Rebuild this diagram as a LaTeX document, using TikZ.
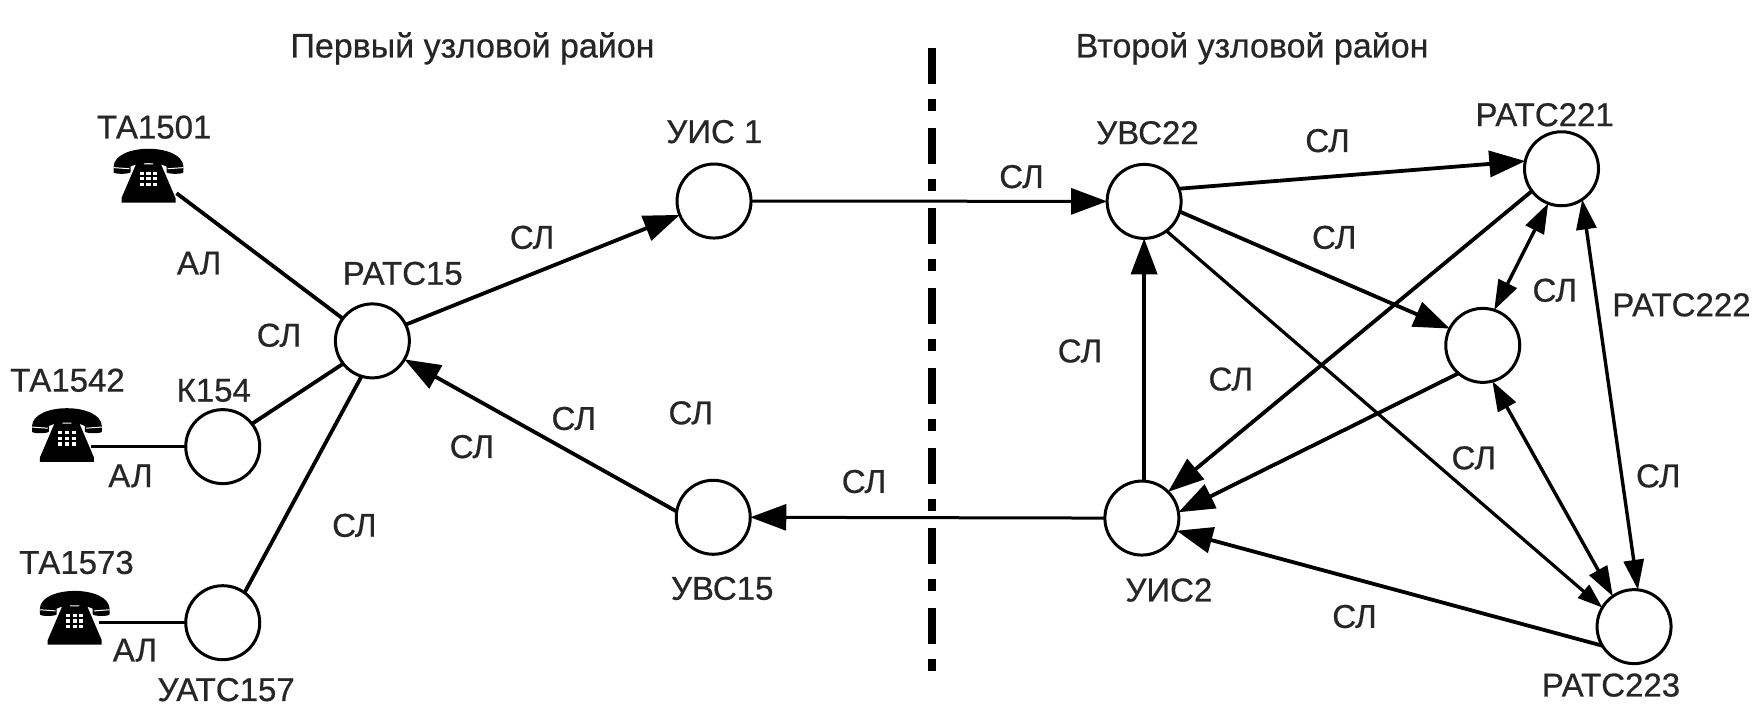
\documentclass[tikz,border=0pt]{standalone}
\usepackage{fontspec}
\setmainfont{Liberation Sans}[FakeBold=0.6]
\usetikzlibrary{arrows.meta}
\tikzset{
  x=1.125pt,y=-1.125pt,
  station/.style={circle,draw=black,line width=3pt,fill=white,minimum size=74pt,inner sep=0pt,outer sep=0pt},
  lbl/.style={font=\fontsize{33}{33}\selectfont,text=black!85,inner sep=0pt},
  title/.style={font=\fontsize{34}{34}\selectfont,text=black!85,inner sep=0pt},
  link/.style={line width=3.8pt,draw=black},
  thinlink/.style={line width=3pt,draw=black},
  arr/.style={link,-{Triangle[length=36pt,width=26pt]}},
  smallarr/.style={link,line width=3.2pt,-{Triangle[length=25pt,width=17pt]}},
  biarr/.style={link,{Triangle[length=30pt,width=20pt]}-{Triangle[length=30pt,width=20pt]},line width=3.4pt},
  phonenode/.style={inner sep=0pt,outer sep=0pt,minimum width=73pt,minimum height=55pt},
  phone/.pic={
    \fill[black] (-31,-8) .. controls (-30,-29) and (30,-29) .. (31,-8) -- (31,-3)
       .. controls (31,-1) and (17,-1) .. (16,-3) -- (16,-8) .. controls (8,-12) and (-8,-12) .. (-16,-8)
       -- (-16,-3) .. controls (-17,-1) and (-31,-1) .. (-31,-3) -- cycle;
    \fill[black] (-10,-13) -- (-5,-13) -- (-4,-10) -- (4,-10) -- (5,-13) -- (10,-13) -- (12,-8)
       -- (24,20) -- (24,24) -- (-24,24) -- (-24,20) -- (-12,-8) -- cycle;
    \draw[white,line width=1pt] (-31,-7) -- (-17,-6);
    \draw[white,line width=1pt] (31,-7) -- (17,-6);
    \foreach \i in {-6,0,6} \foreach \j in {-2,3,8}
      \fill[white] (\i-1.8,\j-1.4) rectangle (\i+1.8,\j+1.4);
  }
}
\begin{document}
\begin{tikzpicture}
\useasboundingbox (0,0) rectangle (1568,636.4);
\fill[white] (0,0) rectangle (1568,636.4);

\node[station] (r15) at (331,303) {};
\node[station] (k154) at (198,397) {};
\node[station] (u157) at (198,553.5) {};
\node[station] (uis1) at (634.7,178.7) {};
\node[station] (uvs15) at (634,459.8) {};
\node[station] (uvs22) at (1017,179) {};
\node[station] (uis2) at (1015,460.5) {};
\node[station] (r221) at (1388,150) {};
\node[station] (r222) at (1318,307) {};
\node[station] (r223) at (1452.5,557) {};

\node[phonenode] (ta1) at (132,156) {};
\node[phonenode] (ta2) at (59.5,386.6) {};
\node[phonenode] (ta3) at (66.4,549) {};
\pic at (ta1) {phone};
\pic at (ta2) {phone};
\pic at (ta3) {phone};

\draw[link] ([xshift=28pt,yshift=-17.7pt]ta1.center) -- (r15.143.5);
\draw[link] (k154.38) -- (r15.218);
\draw[link] (u157.54) -- (r15.253);
\draw[thinlink] ([xshift=-12pt]ta2.east |- k154.west) -- (k154.west);
\draw[thinlink] ([xshift=-12pt]ta3.east |- u157.west) -- (u157.west);

\draw[arr] (r15.26) -- (uis1.202.6);
\draw[arr,thinlink] (uis1.east) -- (uvs22.west);
\draw[arr] (uvs15.171.6) -- (r15.-30.8);
\draw[arr,thinlink] (uis2.west) -- (uvs15.east);
\draw[arr] (uis2.north -| uvs22) -- (uvs22.south);
\draw[arr] (uvs22.20.7) -- (r221.168.7);
\draw[arr] (uvs22.-16) -- (r222.153.6);
\draw[smallarr] (uvs22.-53) -- (r223.149.8);
\draw[arr] (r221.217.5) -- (uis2.45.6);
\draw[arr] (r222.229) -- (uis2.9);
\draw[arr] (r223.211) -- (uis2.-20);
\draw[biarr] (r221.249.4) -- (r222.72.3);
\draw[biarr] (r221.304) -- (r223.84.7);
\draw[biarr] (r222.285) -- (r223.125.5);

\coordinate (divT) at (828,42.6);
\coordinate (divB) at (828,601);
\draw[line width=8pt,dash pattern=on 36pt off 15pt on 12pt off 17pt] (divT) -- (divB);

\node[title] (t1) at (420,43) {Первый узловой район};
\node[title] (t2) at (1113,43) {Второй узловой район};
\node[lbl] (a) at (137,113) {ТА1501};
\node[lbl] (b) at (177,234) {АЛ};
\node[lbl] (c) at (358,243) {РАТС15};
\node[lbl] (d) at (248,298) {СЛ};
\node[lbl] (e) at (60,338) {ТА1542};
\node[lbl] (f) at (190,347) {К154};
\node[lbl] (g) at (116,423) {АЛ};
\node[lbl] (h) at (315,467) {СЛ};
\node[lbl] (i) at (68,500) {ТА1573};
\node[lbl] (j) at (120,578) {АЛ};
\node[lbl] (k) at (201,613) {УАТС157};
\node[lbl] (l) at (473,211) {СЛ};
\node[lbl] (m) at (635,117) {УИС 1};
\node[lbl] (n) at (419.5,397) {СЛ};
\node[lbl] (o) at (510,372) {СЛ};
\node[lbl] (p) at (614,367) {СЛ};
\node[lbl] (q) at (642,523) {УВС15};
\node[lbl] (r) at (768,428) {СЛ};
\node[lbl] (s) at (908,157) {СЛ};
\node[lbl] (t) at (1020,118) {УВС22};
\node[lbl] (u) at (1180,125) {СЛ};
\node[lbl] (v) at (1186,211) {СЛ};
\node[lbl] (w) at (960,312) {СЛ};
\node[lbl] (x) at (1094,337) {СЛ};
\node[lbl] (y) at (1373,102) {РАТС221};
\node[lbl] (z) at (1382,258) {СЛ};
\node[lbl] (aa) at (1494.6,271) {РАТС222};
\node[lbl] (ab) at (1310,407) {СЛ};
\node[lbl] (ac) at (1474,423) {СЛ};
\node[lbl] (ad) at (1039,524.5) {УИС2};
\node[lbl] (ae) at (1204,548) {СЛ};
\node[lbl] (af) at (1432,609) {РАТС223};
\end{tikzpicture}
\end{document}
